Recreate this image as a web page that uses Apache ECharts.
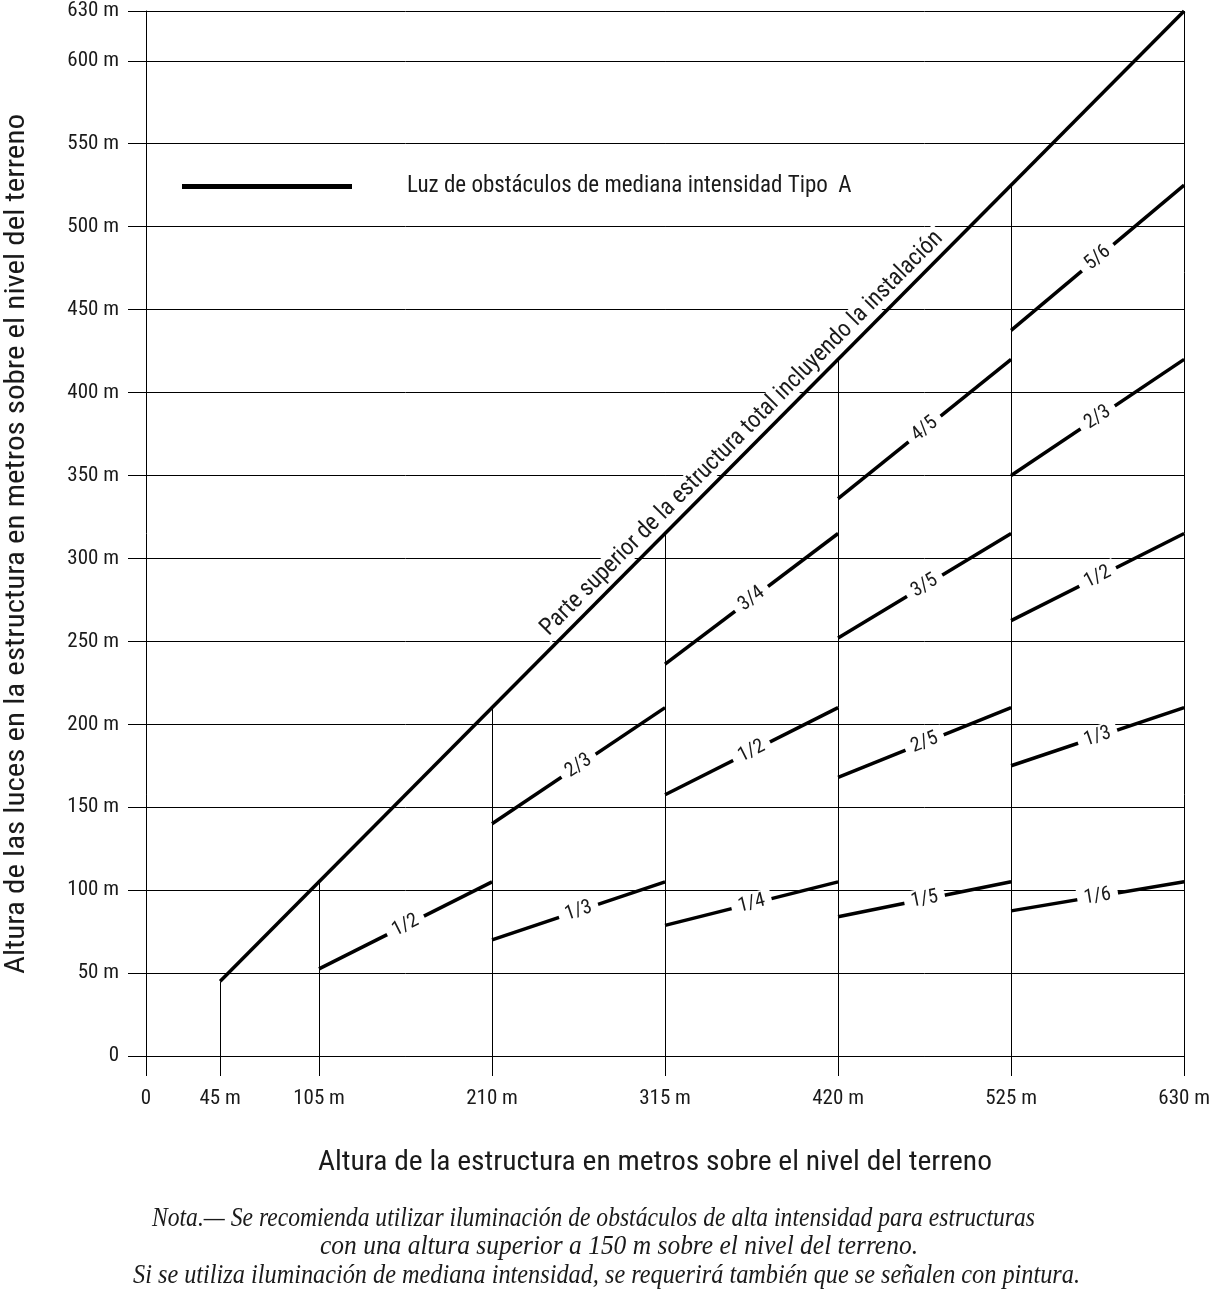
<!DOCTYPE html>
<html><head><meta charset="utf-8">
<script src="https://cdn.jsdelivr.net/npm/echarts@6/dist/echarts.min.js"></script>
<style>html,body{margin:0;padding:0;background:#fff}#chart{width:1213px;height:1290px}</style>
</head><body><div id="chart"></div>
<script>
// ---------- values ----------
const xTicks = [0, 45, 105, 210, 315, 420, 525, 630];
const structureX = [45, 105, 210, 315, 420, 525, 630];
const structureTop = [45, 105, 210, 315, 420, 525, 630];
const topLineX = [45, 630];
const topLineY = [45, 630];
const segStartX = [105, 210, 210, 315, 315, 315, 420, 420, 420, 420, 525, 525, 525, 525, 525];
const segEndX   = [210, 315, 315, 420, 420, 420, 525, 525, 525, 525, 630, 630, 630, 630, 630];
const segStartY = [52.5, 70, 140, 78.75, 157.5, 236.25, 84, 168, 252, 336, 87.5, 175, 262.5, 350, 437.5];
const segEndY   = [105, 105, 210, 105, 210, 315, 105, 210, 315, 420, 105, 210, 315, 420, 525];
const segLabels = ['1/2', '1/3', '2/3', '1/4', '1/2', '3/4', '1/5', '2/5', '3/5', '4/5', '1/6', '1/3', '1/2', '2/3', '5/6'];
const legendName = 'Luz de obstáculos de mediana intensidad Tipo  A';
const topLineLabel = 'Parte superior de la estructura total incluyendo la instalación';
const xTitle = 'Altura de la estructura en metros sobre el nivel del terreno';
const yTitle = 'Altura de las luces en la estructura en metros sobre el nivel del terreno';
const noteLines = [
  'Nota.— Se recomienda utilizar iluminación de obstáculos de alta intensidad para estructuras',
  'con una altura superior a 150 m sobre el nivel del terreno.',
  'Si se utiliza iluminación de mediana intensidad, se requerirá también que se señalen con pintura.'
];

// ---------- helpers ----------
const COND = '"Roboto Condensed", "Liberation Sans", Arial, sans-serif';
const SERIF = '"Liberation Serif", "Times New Roman", serif';
const mctx = document.createElement('canvas').getContext('2d');
function textW(text, font) { mctx.font = font; return mctx.measureText(text).width; }
function fit(text, font, target) { return target / textW(text, font); }

const mLabel = v => (v === 0 ? '0' : v + ' m');

const chart = echarts.init(document.getElementById('chart'), null, { renderer: 'canvas' });

const xTitleFont = '28px ' + COND;
const yTitleFont = '28px ' + COND;
const noteFont = 'italic 27px ' + SERIF;
const noteTargets = [[593.5, 883], [619, 598], [606.5, 947]];
const noteY = [1219, 1247, 1276];

const graphics = [
  { type: 'text', x: 655, y: 1163, scaleX: fit(xTitle, xTitleFont, 674),
    style: { text: xTitle, font: xTitleFont, fill: '#1a1a1a', align: 'center', verticalAlign: 'middle', textAlign: 'center', textVerticalAlign: 'middle' } },
  { type: 'text', x: 17, y: 544, rotation: Math.PI / 2, scaleX: fit(yTitle, yTitleFont, 860),
    style: { text: yTitle, font: yTitleFont, fill: '#1a1a1a', align: 'center', verticalAlign: 'middle', textAlign: 'center', textVerticalAlign: 'middle' } }
];
noteLines.forEach((t, i) => {
  graphics.push({ type: 'text', x: noteTargets[i][0], y: noteY[i], scaleX: fit(t, noteFont, noteTargets[i][1]),
    style: { text: t, font: noteFont, fill: '#1a1a1a', align: 'center', verticalAlign: 'middle', textAlign: 'center', textVerticalAlign: 'middle' } });
});

const segFont = '20px ' + COND;
const topFont = '24px ' + COND;

const option = {
  animation: false,
  backgroundColor: '#fff',
  grid: { left: 146, right: 27, top: 11, bottom: 234, containLabel: false },
  legend: {
    show: true, left: 182, top: 175, padding: 0, selectedMode: false,
    icon: 'rect', itemWidth: 170, itemHeight: 5,
    itemStyle: { color: '#000' },
    textStyle: { fontFamily: COND, fontSize: 23, color: '#1a1a1a', padding: [0, 0, 0, 50] },
    data: [legendName]
  },
  xAxis: {
    type: 'value', min: 0, max: 630,
    axisLine: { show: true, onZero: false, lineStyle: { color: '#000', width: 1 } },
    axisTick: { show: true, length: 20, customValues: xTicks, lineStyle: { color: '#000', width: 1 } },
    axisLabel: { customValues: xTicks, margin: 32, formatter: mLabel, fontFamily: COND, fontSize: 21, color: '#1a1a1a' },
    splitLine: { show: false }
  },
  yAxis: {
    type: 'value', min: 0, max: 630, interval: 50,
    axisLine: { show: true, lineStyle: { color: '#000', width: 1 } },
    axisTick: { show: true, length: 18, lineStyle: { color: '#000', width: 1 } },
    axisLabel: { margin: 27, formatter: mLabel, fontFamily: COND, fontSize: 21, color: '#1a1a1a', showMaxLabel: true },
    splitLine: { show: true, lineStyle: { color: '#000', width: 1 } }
  },
  graphic: graphics,
  series: [
    {
      type: 'custom', name: 'drop', coordinateSystem: 'cartesian2d', z: 2, silent: true,
      data: structureX.map((x, i) => [x, structureTop[i]]),
      encode: { x: 0, y: 1 },
      renderItem: (params, api) => {
        const a = api.coord([api.value(0), 0]);
        const b = api.coord([api.value(0), api.value(1)]);
        const x = Math.round(a[0]) + 0.5;
        return { type: 'line', shape: { x1: x, y1: a[1], x2: x, y2: b[1] }, style: { stroke: '#000', lineWidth: 1 } };
      }
    },
    {
      type: 'custom', name: 'topLabel', coordinateSystem: 'cartesian2d', z: 3, silent: true,
      data: [[topLineX[0], topLineY[0], topLineX[1], topLineY[1]]],
      encode: { x: [0, 2], y: [1, 3] },
      renderItem: (params, api) => {
        const a = api.coord([api.value(0), api.value(1)]);
        const b = api.coord([api.value(2), api.value(3)]);
        const ang = Math.atan2(a[1] - b[1], b[0] - a[0]);
        const t = 0.553;
        const cx = a[0] + (b[0] - a[0]) * t, cy = a[1] + (b[1] - a[1]) * t;
        const off = 16;
        return {
          type: 'text', x: cx - Math.sin(ang) * off, y: cy - Math.cos(ang) * off, rotation: ang,
          scaleX: fit(topLineLabel, topFont, 560),
          style: { text: topLineLabel, font: topFont, fill: '#1a1a1a', align: 'center', verticalAlign: 'middle', backgroundColor: '#fff', padding: [0, 3] }
        };
      }
    },
    {
      type: 'line', name: legendName, z: 5, symbol: 'none', silent: true,
      data: topLineX.map((x, i) => [x, topLineY[i]]),
      itemStyle: { color: '#000' },
      lineStyle: { color: '#000', width: 3.5 }
    },
    {
      type: 'custom', name: 'fractions', coordinateSystem: 'cartesian2d', z: 4, silent: true,
      data: segStartX.map((x, i) => [x, segStartY[i], segEndX[i], segEndY[i]]),
      encode: { x: [0, 2], y: [1, 3] },
      renderItem: (params, api) => {
        const a = api.coord([api.value(0), api.value(1)]);
        const b = api.coord([api.value(2), api.value(3)]);
        const ang = Math.atan2(a[1] - b[1], b[0] - a[0]);
        return {
          type: 'group',
          children: [
            { type: 'line', shape: { x1: a[0], y1: a[1], x2: b[0], y2: b[1] }, style: { stroke: '#000', lineWidth: 3.5 } },
            { type: 'text', x: (a[0] + b[0]) / 2, y: (a[1] + b[1]) / 2, rotation: ang,
              style: { text: segLabels[params.dataIndex], font: segFont, fill: '#1a1a1a', align: 'center', verticalAlign: 'middle', backgroundColor: '#fff', padding: [1, 7] } }
          ]
        };
      }
    }
  ]
};
chart.setOption(option);
</script>
</body></html>
